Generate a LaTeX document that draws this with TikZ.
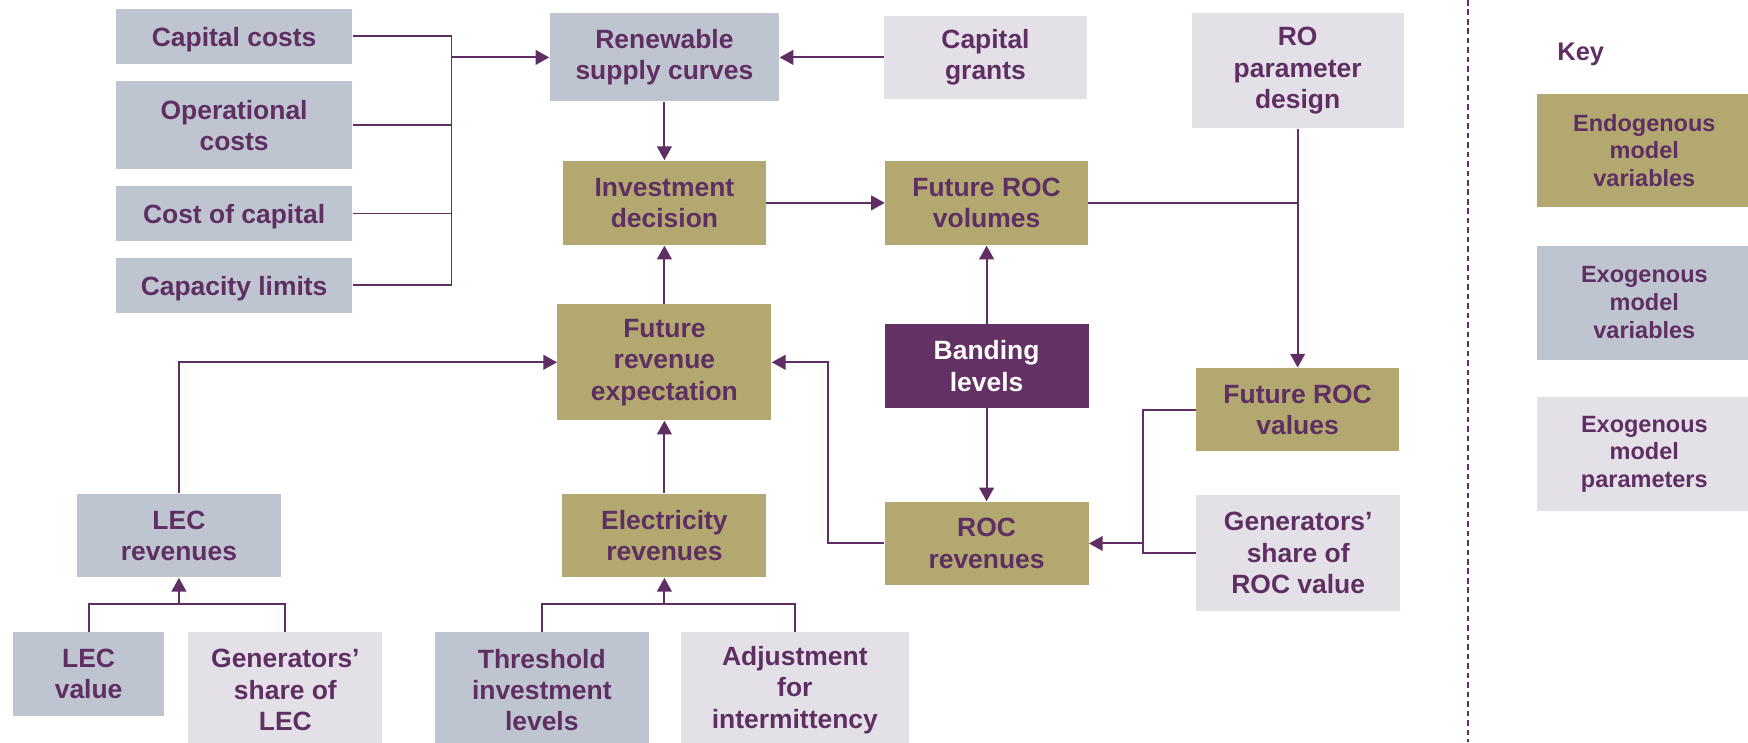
\documentclass[tikz,border=0pt]{standalone}
\usepackage{fontspec}
\setmainfont{Liberation Sans}
\usetikzlibrary{arrows.meta}

\definecolor{plum}{HTML}{5F2E62}
\definecolor{endo}{HTML}{B2A870}
\definecolor{exovar}{HTML}{BFC5D0}
\definecolor{exopar}{HTML}{E4E0E8}
\definecolor{band}{HTML}{633163}

\tikzset{
  box/.style={align=center,text=plum,inner sep=0pt,
    font=\bfseries\fontsize{13.5}{16}\selectfont,
    execute at begin node={\rule{0pt}{13pt}}},
  endobox/.style={box,fill=endo},
  varbox/.style={box,fill=exovar},
  parbox/.style={box,fill=exopar},
  keybox/.style={align=center,text=plum,inner sep=0pt,
    minimum width=3.84cm,minimum height=2.04cm,
    font=\bfseries\fontsize{12}{14.2}\selectfont},
  link/.style={draw=plum,line width=1pt},
}

\begin{document}
\begin{tikzpicture}[x=0.02cm,y=-0.02cm,>={Triangle[length=7pt,width=7.5pt]}]
\useasboundingbox (0,0) rectangle (1568,666);

% cost inputs on the left
\node[varbox,minimum width=4.24cm,minimum height=0.98cm] (capcost) at (210,32.5) {Capital costs};
\node[varbox,minimum width=4.24cm,minimum height=1.58cm] (opcost) at (210,112.5) {Operational\\costs};
\node[varbox,minimum width=4.24cm,minimum height=0.98cm] (coc) at (210,191.5) {Cost of capital};
\node[varbox,minimum width=4.24cm,minimum height=0.98cm] (caplim) at (210,256) {Capacity limits};

\node[varbox,minimum width=4.12cm,minimum height=1.58cm] (supply) at (596,51.5) {Renewable\\supply curves};
\node[parbox,minimum width=3.64cm,minimum height=1.50cm] (grants) at (884,51.5) {Capital\\grants};
\node[parbox,minimum width=3.80cm,minimum height=2.06cm] (roparam) at (1164,63.5) {RO\\parameter\\design};

\node[endobox,minimum width=3.64cm,minimum height=1.52cm] (invest) at (596,182) {Investment\\decision};
\node[endobox,minimum width=3.64cm,minimum height=1.52cm] (rocvol) at (885,182) {Future ROC\\volumes};

\node[endobox,minimum width=3.84cm,minimum height=2.08cm] (futrev) at (596,325) {Future\\revenue\\expectation};
\node[box,fill=band,text=white,minimum width=3.66cm,minimum height=1.50cm] (banding) at (885,328.5) {Banding\\levels};
\node[endobox,minimum width=3.64cm,minimum height=1.50cm] (rocval) at (1164,367.5) {Future ROC\\values};

% revenue streams
\node[varbox,minimum width=3.66cm,minimum height=1.50cm] (lecrev) at (160.5,480.5) {LEC\\revenues};
\node[endobox,minimum width=3.66cm,minimum height=1.50cm] (elecrev) at (596,480.5) {Electricity\\revenues};
\node[endobox,minimum width=3.66cm,minimum height=1.50cm] (rocrev) at (885,487.5) {ROC\\revenues};
\node[parbox,minimum width=3.66cm,minimum height=2.08cm] (genroc) at (1164.5,496) {Generators’\\share of\\ROC value};

\node[varbox,minimum width=2.70cm,minimum height=1.50cm] (lecval) at (79.5,604.5) {LEC\\value};
\node[parbox,minimum width=3.48cm,minimum height=2.08cm] (genlec) at (256,619) {Generators’\\share of\\LEC};
\node[varbox,minimum width=3.84cm,minimum height=2.08cm] (thresh) at (486,619) {Threshold\\investment\\levels};
\node[parbox,minimum width=4.08cm,minimum height=2.08cm] (adjust) at (713,619) {Adjustment\\for\\intermittency};

% junction points
\coordinate (costbus) at (405,51.5);
\coordinate (rocbus) at (1025,487.5);
\coordinate (rocturn) at (743,325);
\coordinate (lecbus) at (160.5,542);
\coordinate (elecbus) at (596,542);

\path[link] (capcost.east) -| (costbus);
\path[link] (opcost.east) -| (costbus);
\path[link] (coc.east) -| (costbus);
\path[link] (caplim.east) -| (costbus);
\path[link,->] (costbus) -- (supply);
\path[link,->] (grants) -- (supply);
\path[link,->] (supply) -- (invest);
\path[link,->] (futrev) -- (invest);
\path[link,->] (invest) -- (rocvol);
\path[link] (rocvol) -- (rocvol -| roparam);
\path[link,->] (roparam) -- (rocval);
\path[link,->] (banding) -- (rocvol);
\path[link,->] (banding) -- (rocrev);
\path[link] (rocval.west) -| (rocbus);
\path[link] (genroc.west) -| (rocbus);
\path[link,->] (rocbus) -- (rocrev);
\path[link,->] (rocrev.west) -| (rocturn) -- (futrev);
\path[link,->] (lecrev) |- (futrev);
\path[link,->] (elecrev) -- (futrev);
\path[link] (lecval) |- (lecbus);
\path[link] (genlec) |- (lecbus);
\path[link,->] (lecbus) -- (lecrev);
\path[link] (thresh) |- (elecbus);
\path[link] (adjust) |- (elecbus);
\path[link,->] (elecbus) -- (elecrev);

% key
\draw[plum,line width=0.9pt,dash pattern=on 0.1cm off 0.07cm] (1317,0) -- (1317,666);
\node[text=plum,font=\bfseries\fontsize{13}{15}\selectfont] (keylbl) at (1418,49) {Key};
\node[keybox,fill=endo] (keyendo) at (1475,135) {Endogenous\\model\\variables};
\node[keybox,fill=exovar] (keyvar) at (1475,271.5) {Exogenous\\model\\variables};
\node[keybox,fill=exopar] (keypar) at (1475,407.5) {Exogenous\\model\\parameters};
\end{tikzpicture}
\end{document}
